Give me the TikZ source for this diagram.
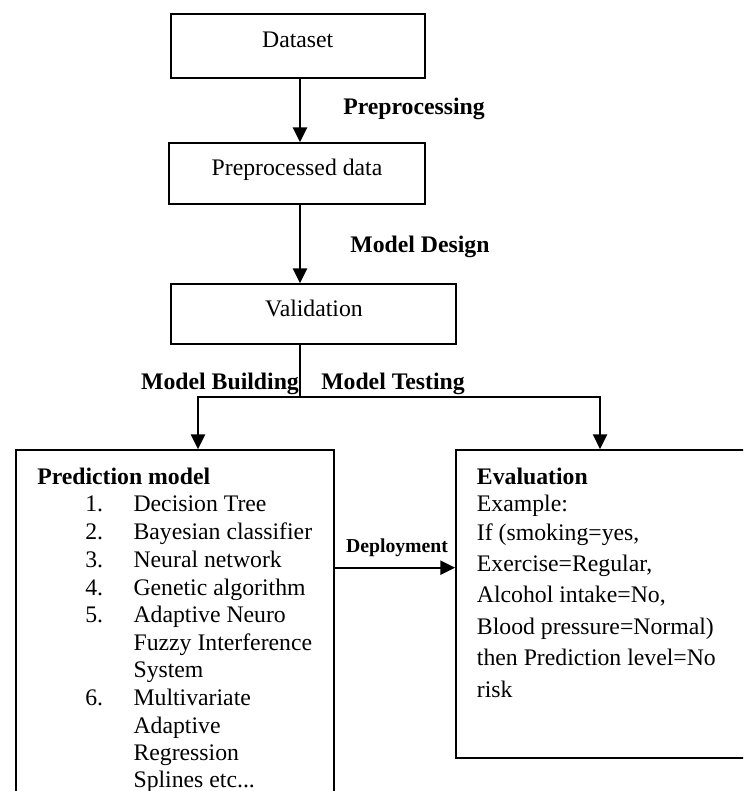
\documentclass[tikz,border=0pt]{standalone}
\usepackage{fontspec}
\setmainfont{Liberation Serif}
\usetikzlibrary{arrows.meta,calc}
\begin{document}
\begin{tikzpicture}[x=0.75pt,y=-0.75pt,
  box/.style={draw,line width=1.3pt,inner sep=0pt},
  ctext/.style={font=\fontsize{17.8}{20}\selectfont,inner sep=0pt,text height=13pt,text depth=1.5pt},
  lbl/.style={font=\fontsize{17.8}{20}\selectfont\bfseries,inner sep=0pt,text height=13pt,text depth=1.5pt},
  smalllbl/.style={font=\fontsize{14.8}{17}\selectfont\bfseries,inner sep=0pt,text height=11pt,text depth=1.2pt},
  txt/.style={ctext,anchor=west},
  arr/.style={line width=1.5pt,-{Triangle[width=10.5pt,length=11pt]}},
  ln/.style={line width=1.5pt}]
\useasboundingbox (0,0) rectangle (743,791);
\clip (0,0) rectangle (743,791);

% boxes
\node[box,minimum width=190.7pt,minimum height=48pt] (data) at (297.85,46) {};
\node[ctext] (datat) at (297.7,40) {Dataset};
\node[box,minimum width=192pt,minimum height=45.75pt] (prep) at (297,173.5) {};
\node[ctext] (prept) at (297,168) {Preprocessed data};
\node[box,minimum width=214pt,minimum height=45pt] (valid) at (313.3,314) {};
\node[ctext] (validt) at (314,309) {Validation};
\node[box,minimum width=238.5pt,minimum height=262.5pt] (pred) at (175,625) {};
\node[box,minimum width=220.5pt,minimum height=230.8pt] (eval) at (603,603.85) {};

% connectors
\coordinate (ax) at (300,0);
\draw[arr] (ax |- data.south) -- (ax |- prep.north);
\draw[arr] (ax |- prep.south) -- (ax |- valid.north);
\coordinate (split) at (300,396.7);
\coordinate (lx) at (198,396.7);
\coordinate (rx) at (600,396.7);
\draw[ln] (split |- valid.south) -- (split);
\draw[arr] (split) -| (lx |- pred.north);
\draw[arr] (split) -| (rx |- eval.north);
\coordinate (dy) at (0,567.7);
\draw[arr] (pred.east |- dy) -- (eval.west |- dy);

% connector labels
\node[lbl] (l1) at (414,107) {Preprocessing};
\node[lbl] (l2) at (420,244.5) {Model Design};
\node[lbl] (l3) at (220,382) {Model Building};
\node[lbl] (l4) at (393,382) {Model Testing};
\node[smalllbl] (l5) at (397,546) {Deployment};

% prediction model text
\node[txt,font=\fontsize{17.8}{20}\selectfont\bfseries] (ph) at (37,476.7) {Prediction model};
\node[txt] (n1) at (85,504) {1.};
\node[txt] (t1) at (133.3,504) {Decision Tree};
\node[txt] (n2) at (85,532) {2.};
\node[txt] (t2) at (133.3,532) {Bayesian classifier};
\node[txt] (n3) at (85,560) {3.};
\node[txt] (t3) at (133.3,560) {Neural network};
\node[txt] (n4) at (85,587.5) {4.};
\node[txt] (t4) at (133.3,587.5) {Genetic algorithm};
\node[txt] (n5) at (85,615) {5.};
\node[txt] (t5a) at (133.3,615) {Adaptive Neuro};
\node[txt] (t5b) at (133.3,642.7) {Fuzzy Interference};
\node[txt] (t5c) at (133.3,670) {System};
\node[txt] (n6) at (85,698) {6.};
\node[txt] (t6a) at (133.3,698) {Multivariate};
\node[txt] (t6b) at (133.3,725.5) {Adaptive};
\node[txt] (t6c) at (133.3,753) {Regression};
\node[txt] (t6d) at (133.3,780) {Splines etc...};

% evaluation text
\node[txt,font=\fontsize{17.8}{20}\selectfont\bfseries] (eh) at (476.7,476.7) {Evaluation};
\node[txt] (e1) at (476.7,504) {Example:};
\node[txt] (e2) at (476.7,532.7) {If (smoking=yes,};
\node[txt] (e3) at (476.7,563.5) {Exercise=Regular,};
\node[txt] (e4) at (476.7,595) {Alcohol intake=No,};
\node[txt] (e5) at (476.7,626.5) {Blood pressure=Normal)};
\node[txt] (e6) at (476.7,658) {then Prediction level=No};
\node[txt] (e7) at (476.7,690) {risk};
\end{tikzpicture}
\end{document}
